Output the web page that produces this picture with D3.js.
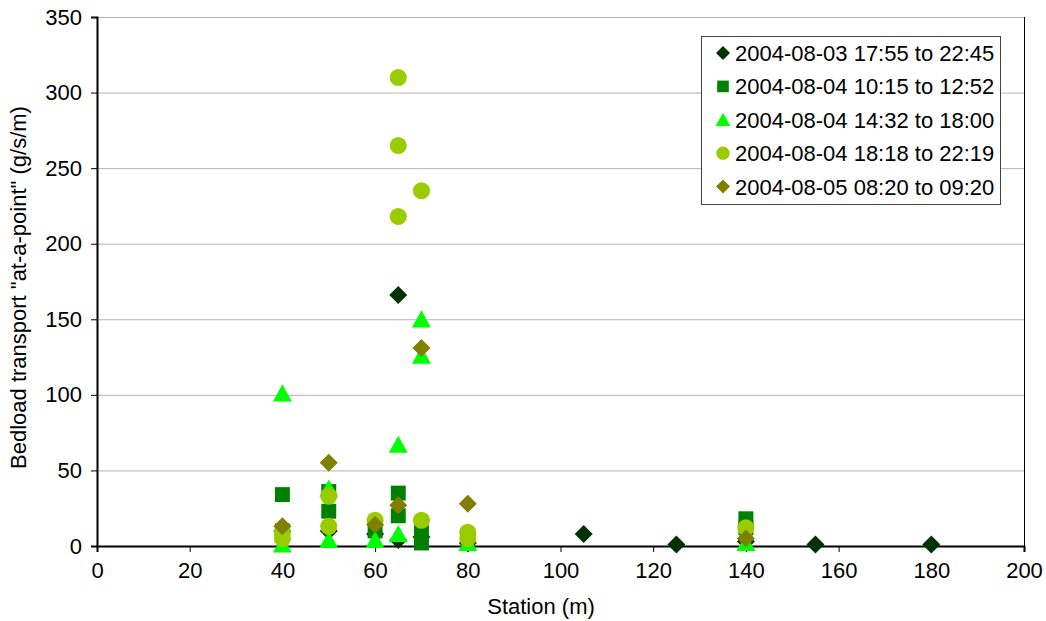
<!DOCTYPE html>
<html><head><meta charset="utf-8">
<script src="https://cdn.jsdelivr.net/npm/d3@7"></script>
<style>
body{margin:0;background:#fff;}
svg{display:block;font-family:"Liberation Sans",Arial,sans-serif;}
</style></head>
<body>
<svg id="chart" width="1046" height="621"></svg>
<script>
// ---- data ----
const seriesNames = ["2004-08-03 17:55 to 22:45","2004-08-04 10:15 to 12:52","2004-08-04 14:32 to 18:00","2004-08-04 18:18 to 22:19","2004-08-05 08:20 to 09:20"];
const s1Station = [40,50,60,65,65,70,80,105,125,140,155,180];
const s1Value   = [10,10,8,166,4,6,2,8,1,3,1,1];
const s2Station = [40,40,50,50,60,65,65,70,70,140,140];
const s2Value   = [34,10,36,23,10,35,20,9,2,18,12];
const s3Station = [40,40,50,50,60,65,65,70,70,80,140];
const s3Value   = [101,1,38,4,4,67,8,150,126,2,2];
const s4Station = [40,40,50,50,60,65,65,65,70,70,80,80,140];
const s4Value   = [9,5,33,13,17,310,265,218,235,17,9,5,12];
const s5Station = [40,50,60,65,70,80,140];
const s5Value   = [13,55,14,27,131,28,5];
const xTicks = [0,20,40,60,80,100,120,140,160,180,200];
const yTicks = [0,50,100,150,200,250,300,350];

const colors = ["#003300","#008000","#00ff00","#99cc00","#808000"];
const shapes = ["diamond","square","triangle","circle","diamond"];
const stations = [s1Station,s2Station,s3Station,s4Station,s5Station];
const values = [s1Value,s2Value,s3Value,s4Value,s5Value];

// ---- layout ----
const W=1046,H=621,m={l:97,r:22,t:17,b:75};
const svg=d3.select("#chart");
const x=d3.scaleLinear().domain([0,200]).range([m.l,W-m.r]);
const y=d3.scaleLinear().domain([0,350]).range([H-m.b,m.t]);

function shapePath(type,s){
  if(type==="diamond") return `M0,${-s}L${s},0L0,${s}L${-s},0Z`;
  if(type==="square") return `M${-s*0.83},${-s*0.83}H${s*0.83}V${s*0.83}H${-s*0.83}Z`;
  if(type==="triangle") return `M0,${-s}L${s*1.05},${s*0.9}L${-s*1.05},${s*0.9}Z`;
  const p=d3.path();p.arc(0,0,s*0.95,0,2*Math.PI);return p.toString();
}

// gridlines
svg.append("g").selectAll("line").data(yTicks.filter(d=>d>0)).join("line")
  .attr("x1",m.l).attr("x2",W-m.r).attr("y1",d=>y(d)+0.5).attr("y2",d=>y(d)+0.5)
  .attr("stroke","#b3b3b3").attr("stroke-width",1);
// right border
svg.append("line").attr("x1",W-m.r+0.5).attr("x2",W-m.r+0.5).attr("y1",m.t).attr("y2",H-m.b)
  .attr("stroke","#000").attr("stroke-width",1);

// axes
const xAxis=svg.append("g").attr("transform",`translate(0,${H-m.b})`)
  .call(d3.axisBottom(x).tickValues(xTicks).tickSize(6).tickPadding(10).tickFormat(d3.format("d")));
const yAxis=svg.append("g").attr("transform",`translate(${m.l},0)`)
  .call(d3.axisLeft(y).tickValues(yTicks).tickSize(6).tickPadding(9).tickFormat(d3.format("d")));
[xAxis,yAxis].forEach(g=>{
  g.select(".domain").attr("stroke","#000").attr("stroke-width",2);
  g.selectAll(".tick line").attr("stroke","#000");
  g.selectAll("text").attr("font-size",22).attr("fill","#000").attr("font-family","Liberation Sans, Arial, sans-serif");
});

// axis titles
svg.append("text").attr("x",541).attr("y",614).attr("text-anchor","middle")
  .attr("font-size",22).text("Station (m)");
svg.append("text").attr("transform",`translate(26,${(m.t+H-m.b)/2+6}) rotate(-90)`)
  .attr("text-anchor","middle").attr("font-size",22).text('Bedload transport "at-a-point" (g/s/m)');

// points
const pts=svg.append("g");
stations.forEach((st,i)=>{
  const data=st.map((s,j)=>({s,v:values[i][j]}));
  pts.append("g").selectAll("path").data(data).join("path")
    .attr("d",shapePath(shapes[i],9))
    .attr("transform",d=>`translate(${x(d.s)},${y(d.v)})`)
    .attr("fill",colors[i]);
});

// legend
const lg=svg.append("g");
lg.append("rect").attr("x",701.5).attr("y",36.5).attr("width",299).attr("height",168)
  .attr("fill","#fff").attr("stroke","#444").attr("stroke-width",1);
seriesNames.forEach((n,i)=>{
  const cy=53+i*33.4;
  lg.append("path").attr("d",shapePath(shapes[i],7)).attr("transform",`translate(723,${cy})`).attr("fill",colors[i]);
  lg.append("text").attr("x",735).attr("y",cy+8).attr("font-size",22).text(n);
});
</script>
</body></html>
